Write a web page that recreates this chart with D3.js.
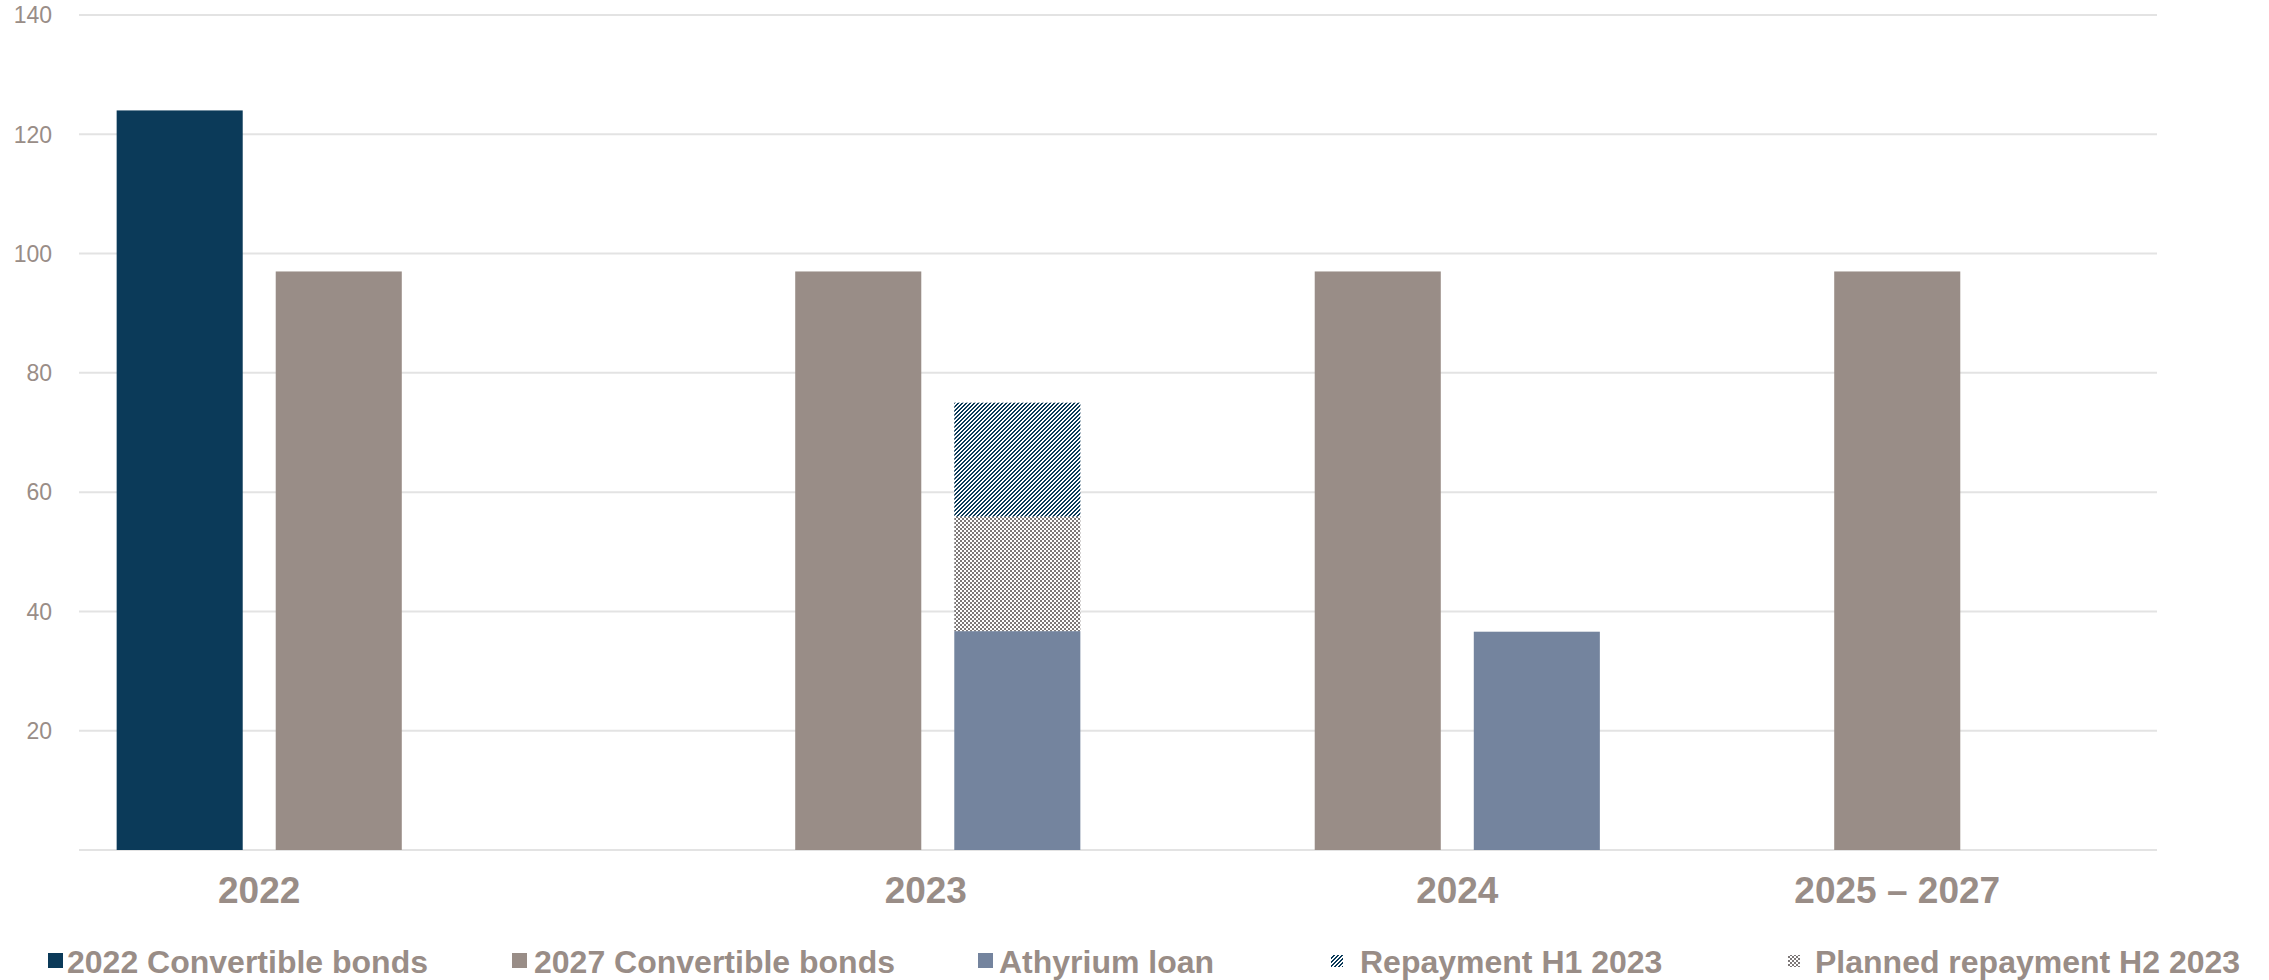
<!DOCTYPE html>
<html>
<head>
<meta charset="utf-8">
<script src="https://cdn.jsdelivr.net/npm/d3@7"></script>
<style>
  html, body { margin: 0; padding: 0; background: #fff; }
  svg text { font-family: "Liberation Sans", Arial, sans-serif; }
</style>
</head>
<body>
<div id="chart"></div>
<script>
// Chart values
var categories = ['2022', '2023', '2024', '2025 \u2013 2027'];
var conv2022 = [124, 0, 0, 0];
var conv2027 = [97, 97, 97, 97];
var athyrium = [0, 36.7, 36.6, 0];
var repayH2 = [0, 19.2, 0, 0];
var repayH1 = [0, 19.1, 0, 0];
var yTicks = [20, 40, 60, 80, 100, 120, 140];
var legendLabels = ['2022 Convertible bonds', '2027 Convertible bonds', 'Athyrium loan', 'Repayment H1 2023', 'Planned repayment H2 2023'];

// Set dimensions
var width = 2269,
  height = 980,
  plotLeft = 79,
  plotRight = 2157,
  plotTop = 15,
  plotBottom = 850;

var navy = '#0b3a59',
  taupe = '#998d87',
  slate = '#74849e',
  checkGray = '#7d7878',
  textColor = '#998d87',
  gridColor = '#e3e3e3';

var svg = d3
  .select('#chart')
  .append('svg')
  .attr('width', width)
  .attr('height', height);

// Patterns (pixel tiles, like the office fill patterns)
var defs = svg.append('defs');
var hatch = defs
  .append('pattern')
  .attr('id', 'hatch')
  .attr('patternUnits', 'userSpaceOnUse')
  .attr('width', 4)
  .attr('height', 4);
hatch.append('rect').attr('width', 4).attr('height', 4).attr('fill', '#fff');
for (var py = 0; py < 4; py++) {
  for (var px = 0; px < 4; px++) {
    if ((px + py) % 4 < 2) {
      hatch
        .append('rect')
        .attr('x', px)
        .attr('y', py)
        .attr('width', 1)
        .attr('height', 1)
        .attr('fill', navy)
        .attr('shape-rendering', 'crispEdges');
    }
  }
}

var checker = defs
  .append('pattern')
  .attr('id', 'checker')
  .attr('patternUnits', 'userSpaceOnUse')
  .attr('width', 4)
  .attr('height', 4);
checker.append('rect').attr('width', 4).attr('height', 4).attr('fill', '#fff');
checker.append('rect').attr('width', 2).attr('height', 2).attr('fill', checkGray).attr('shape-rendering', 'crispEdges');
checker.append('rect').attr('x', 2).attr('y', 2).attr('width', 2).attr('height', 2).attr('fill', checkGray).attr('shape-rendering', 'crispEdges');

// Scales
var x = d3.scaleBand().domain(categories).range([plotLeft, plotRight]).padding(0);
var slot = d3
  .scaleBand()
  .domain([0, 1, 2])
  .range([0, x.bandwidth()])
  .paddingInner(0.2075)
  .paddingOuter(0.2367);
var y = d3.scaleLinear().domain([0, 140]).range([plotBottom, plotTop]);

// Grid lines
svg
  .append('g')
  .selectAll('line')
  .data([0].concat(yTicks))
  .enter()
  .append('line')
  .attr('x1', plotLeft)
  .attr('x2', plotRight)
  .attr('y1', function (d) { return y(d); })
  .attr('y2', function (d) { return y(d); })
  .attr('stroke', gridColor)
  .attr('stroke-width', 2);

// Y axis labels
svg
  .append('g')
  .selectAll('text')
  .data(yTicks)
  .enter()
  .append('text')
  .attr('x', 52)
  .attr('y', function (d) { return y(d); })
  .attr('dy', '0.36em')
  .attr('text-anchor', 'end')
  .attr('font-size', 23)
  .attr('fill', textColor)
  .text(function (d) { return d; });

// Bars: one record per drawn rect
var bars = [];
categories.forEach(function (c, i) {
  if (conv2022[i] > 0) bars.push({ cat: c, slot: 0, y0: 0, y1: conv2022[i], fill: navy });
  if (conv2027[i] > 0) bars.push({ cat: c, slot: 1, y0: 0, y1: conv2027[i], fill: taupe });
  var base = 0;
  [[athyrium, slate], [repayH2, 'url(#checker)'], [repayH1, 'url(#hatch)']].forEach(function (s) {
    var v = s[0][i];
    if (v > 0) {
      bars.push({ cat: c, slot: 2, y0: base, y1: base + v, fill: s[1] });
      base += v;
    }
  });
});

svg
  .append('g')
  .selectAll('rect')
  .data(bars)
  .enter()
  .append('rect')
  .attr('x', function (d) { return x(d.cat) + slot(d.slot); })
  .attr('width', slot.bandwidth())
  .attr('y', function (d) { return y(d.y1); })
  .attr('height', function (d) { return y(d.y0) - y(d.y1); })
  .attr('fill', function (d) { return d.fill; });

// Category labels centred under the bars of each group (2023 sits a bit left in the original)
var labelShift = [0, -12, 0, 0];
svg
  .append('g')
  .selectAll('text')
  .data(categories)
  .enter()
  .append('text')
  .attr('x', function (c, i) {
    var slots = bars.filter(function (b) { return b.cat === c; }).map(function (b) { return b.slot; });
    var lo = d3.min(slots), hi = d3.max(slots);
    return x(c) + (slot(lo) + slot(hi) + slot.bandwidth()) / 2 + labelShift[i];
  })
  .attr('y', 903)
  .attr('text-anchor', 'middle')
  .attr('font-size', 37)
  .attr('font-weight', 'bold')
  .attr('fill', textColor)
  .text(function (c) { return c; });

// Legend
var legendSwatchX = [48, 512, 978, 1331, 1788];
var legendTextX = [67, 534, 999, 1360, 1815];
var legendFill = [navy, taupe, slate, 'url(#hatch)', 'url(#checker)'];
var legend = svg
  .append('g')
  .selectAll('g')
  .data(legendLabels)
  .enter()
  .append('g');

legend
  .append('rect')
  .attr('x', function (d, i) { return legendSwatchX[i]; })
  .attr('y', function (d, i) { return i < 3 ? 953 : 955; })
  .attr('width', function (d, i) { return i < 3 ? 15 : 12; })
  .attr('height', function (d, i) { return i < 3 ? 15 : 12; })
  .attr('fill', function (d, i) { return legendFill[i]; });

legend
  .append('text')
  .attr('x', function (d, i) { return legendTextX[i]; })
  .attr('y', 961)
  .attr('dy', '0.36em')
  .attr('font-size', 32)
  .attr('font-weight', 'bold')
  .attr('fill', textColor)
  .text(function (d) { return d; });
</script>
</body>
</html>
